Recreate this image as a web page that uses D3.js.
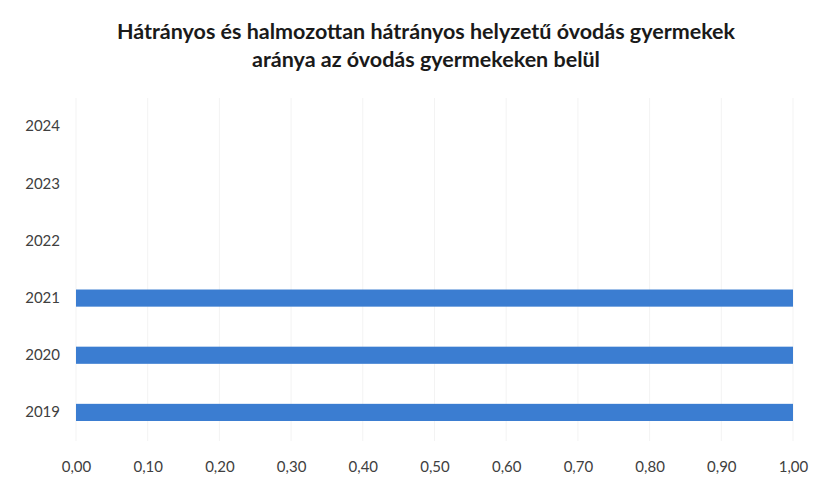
<!DOCTYPE html>
<html><head><meta charset="utf-8">
<script src="https://cdn.jsdelivr.net/npm/d3@7"></script>
<style>body{margin:0;background:#fff}svg{display:block}</style>
</head><body>
<script>
const titleLines = ["Hátrányos és halmozottan hátrányos helyzetű óvodás gyermekek", "aránya az óvodás gyermekeken belül"];
const years = ["2019", "2020", "2021", "2022", "2023", "2024"];
const values = [1.00, 1.00, 1.00, null, null, null];
const xTicks = [0, 0.1, 0.2, 0.3, 0.4, 0.5, 0.6, 0.7, 0.8, 0.9, 1.0];

const W = 824, H = 481;
const m = {left: 76, right: 31, top: 98, bottom: 40};
const svg = d3.select("body").append("svg").attr("width", W).attr("height", H);
const x = d3.scaleLinear().domain([0, 1]).range([m.left, W - m.right]);
const y = d3.scaleBand().domain(years.slice().reverse()).range([m.top, H - m.bottom]).paddingInner(0.7).paddingOuter(0.35);

svg.append("g").selectAll("line").data(xTicks).join("line")
  .attr("x1", d => x(d)).attr("x2", d => x(d))
  .attr("y1", m.top).attr("y2", H - m.bottom)
  .attr("stroke", "#f3f3f3").attr("stroke-width", 1);

svg.append("g").selectAll("rect").data(years.map((yr, i) => ({yr, v: values[i]})).filter(d => d.v != null)).join("rect")
  .attr("x", x(0)).attr("y", d => y(d.yr))
  .attr("width", d => x(d.v) - x(0)).attr("height", y.bandwidth())
  .attr("fill", "#3b7dd1");

const font = "Lato, 'Open Sans', sans-serif";
const xa = svg.append("g").attr("transform", `translate(0,${H - m.bottom})`)
  .call(d3.axisBottom(x).tickValues(xTicks).tickFormat(d => d3.format(".2f")(d).replace(".", ",")).tickSize(0).tickPadding(20));
xa.select(".domain").remove();
xa.selectAll("text").attr("font-family", font).attr("font-size", 15).attr("fill", "#404040");

const ya = svg.append("g").attr("transform", `translate(${m.left},0)`)
  .call(d3.axisLeft(y).tickSize(0).tickPadding(16));
ya.select(".domain").remove();
ya.selectAll("text").attr("font-family", font).attr("font-size", 15).attr("fill", "#404040");

svg.append("g").selectAll("text").data(titleLines).join("text")
  .attr("x", 426).attr("y", (d, i) => 39 + i * 28)
  .attr("text-anchor", "middle").attr("font-family", font).attr("font-weight", "bold")
  .attr("font-size", 21.5).attr("fill", "#1a1a1a").text(d => d);
</script>
</body></html>
